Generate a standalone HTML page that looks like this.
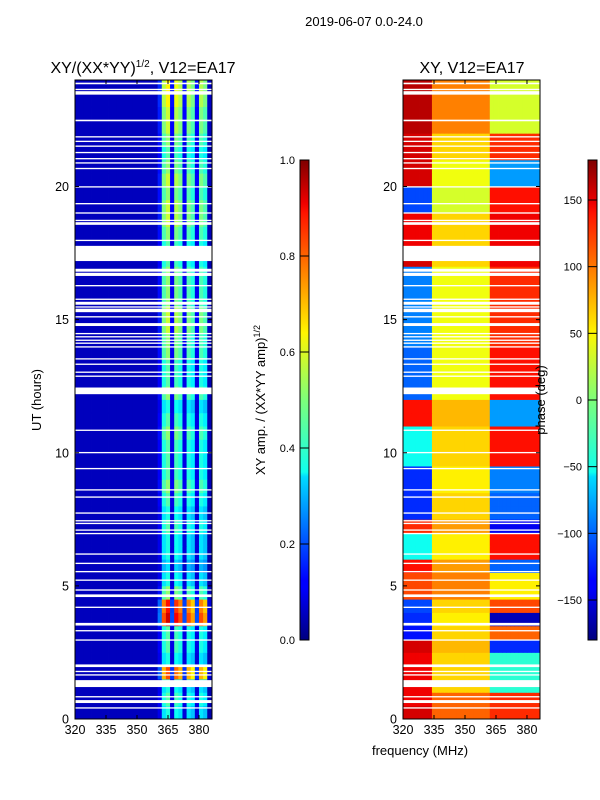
<!DOCTYPE html>
<html><head><meta charset="utf-8"><style>
body{margin:0;background:#fff;}
svg{display:block;font-family:"Liberation Sans","DejaVu Sans",sans-serif;}
</style></head><body>
<svg id="fig" width="600" height="800" viewBox="0 0 600 800">
<defs>
<linearGradient id="jetg" x1="0" y1="1" x2="0" y2="0">
<stop offset="0" stop-color="#00007f"/><stop offset="0.11" stop-color="#0000ff"/><stop offset="0.125" stop-color="#0000ff"/>
<stop offset="0.34" stop-color="#00dbff"/><stop offset="0.35" stop-color="#0fffee"/><stop offset="0.5" stop-color="#7dff7a"/>
<stop offset="0.64" stop-color="#fff600"/><stop offset="0.66" stop-color="#ffe200"/><stop offset="0.89" stop-color="#ff1300"/>
<stop offset="0.91" stop-color="#ef0000"/><stop offset="1" stop-color="#7f0000"/>
</linearGradient>
</defs>
<text x="364" y="26" font-size="13" text-anchor="middle">2019-06-07 0.0-24.0</text>
<text x="143" y="73" font-size="16" text-anchor="middle">XY/(XX*YY)<tspan font-size="10" dy="-6">1/2</tspan><tspan dy="6">, V12=EA17</tspan></text>
<text x="472" y="73" font-size="16" text-anchor="middle">XY, V12=EA17</text>
<g id="left"></g>
<g id="right"></g>
<g id="axes"></g>
<rect x="300" y="160" width="9" height="480" fill="url(#jetg)" stroke="#000" stroke-width="1"/>
<rect x="588" y="160" width="9" height="480" fill="url(#jetg)" stroke="#000" stroke-width="1"/>
<g id="cbticks"></g>
<text transform="translate(41,400) rotate(-90)" font-size="13" text-anchor="middle">UT (hours)</text>
<text x="420" y="755" font-size="13" text-anchor="middle">frequency (MHz)</text>
<text transform="translate(265,400) rotate(-90)" font-size="13" text-anchor="middle">XY amp. / (XX*YY amp)<tspan font-size="9" dy="-5">1/2</tspan></text>
<text transform="translate(545,400) rotate(-90)" font-size="13" text-anchor="middle">phase (deg)</text>
</svg>
<script>
// time rows: 0.5 h bins, index 0 = 0-0.5h
const rowHours = 0.5;
const ampHigh = [0.35,0.4,0.35,0.7,0.35,0.4,0.4,0.8,0.75,0.45,
0.35,0.3,0.35,0.35,0.4,0.35,0.4,0.45,0.4,0.4,0.4,0.45,0.4,0.35,
0.45,0.4,0.4,0.45,0.45,0.5,0.5,0.45,0.45,0.45,0.4,0.4,
0.45,0.5,0.5,0.45,0.5,0.45,0.4,0.45,0.5,0.5,0.55,0.55];
const ampLow = 0.06;
const ampShape = [0.3,1.0,1.15,0.25,1.1,1.0,0.25,1.0,0.9,0.25,1.0,0.9,0.12];
const freqStart = 320, freqStep = 2, nFreq = 33, highStart = 360;
const phaseA = [150,140,140,140,140,150,-130,-120,-110,110,110,130,-40,-40,120,-120,-120,-120,-120,-40,-40,-40,130,130,
-100,-100,-100,-100,-90,-90,-90,-90,-90,-90,150,140,140,140,-110,-110,150,150,150,150,160,160,160,160];
const phaseB = [100,100,60,60,60,70,60,50,60,90,90,80,50,50,80,60,60,50,50,60,60,60,70,70,
40,40,40,40,40,40,40,40,40,40,60,60,60,60,30,30,40,40,60,60,90,90,90,90];
const phaseC = [120,120,-30,-30,-30,-120,100,-160,110,50,50,-100,130,130,-140,-100,-100,-90,-90,130,130,130,-80,-80,
130,130,130,130,120,120,120,120,120,120,140,140,140,140,130,130,-80,-80,120,120,30,30,30,30];
const flags = [[23.84,23.9],[23.62,23.67],[23.45,23.58],[22.45,22.51],[21.84,21.89],[21.67,21.72],[21.49,21.54],[21.25,21.3],
[21.02,21.07],[20.86,20.91],[20.65,20.7],[19.96,20.01],[19.33,19.38],[18.98,19.03],[18.7,18.75],[18.56,18.66],[17.95,18.0],
[17.2,17.77],[16.8,16.91],[16.64,16.76],[16.25,16.3],[15.74,15.79],[15.56,15.67],[15.45,15.5],[15.28,15.41],[15.08,15.13],
[14.76,14.87],[14.45,14.5],[14.33,14.38],[14.2,14.25],[14.09,14.14],[13.95,14.0],[13.5,13.55],[13.3,13.35],[13.0,13.05],
[12.85,12.9],[12.2,12.45],[10.82,10.87],[9.98,10.03],[9.38,9.43],[8.58,8.63],[8.31,8.36],[7.71,7.76],[7.42,7.47],
[7.32,7.37],[7.07,7.12],[6.94,6.99],[6.17,6.22],[5.82,5.87],[5.51,5.56],[5.19,5.24],[4.82,4.87],[4.58,4.68],[4.17,4.22],
[3.51,3.61],[3.29,3.34],[2.94,2.99],[1.95,2.05],[1.76,1.81],[1.63,1.68],[1.2,1.46],[0.81,0.86],[0.6,0.71],[0.39,0.44]];
const yTicks = [0,5,10,15,20];
const xTicks = [320,335,350,365,380];
const ampCbTicks = [0.0,0.2,0.4,0.6,0.8,1.0];
const phCbTicks = [-150,-100,-50,0,50,100,150];

const NS = "http://www.w3.org/2000/svg";
const yTop=80, yBot=719, fmin=320, fmax=386.3, hmax=24;
function yScale(h){return yBot-(h/hmax)*(yBot-yTop);}
function xScale(f,x0,x1){return x0+(f-fmin)/(fmax-fmin)*(x1-x0);}
function jet(v){
  v=Math.max(0,Math.min(1,v));
  const r=Math.max(0,Math.min(1,1.5-Math.abs(4*v-3)));
  const g=Math.max(0,Math.min(1,1.5-Math.abs(4*v-2)));
  const b=Math.max(0,Math.min(1,1.5-Math.abs(4*v-1)));
  return `rgb(${Math.round(r*255)},${Math.round(g*255)},${Math.round(b*255)})`;
}
function mk(tag,attrs,parent){const e=document.createElementNS(NS,tag);for(const k in attrs)e.setAttribute(k,attrs[k]);parent.appendChild(e);return e;}

function drawPanel(gid,x0,x1,valueFn,vmin,vmax,name){
  const g=document.getElementById(gid);
  for(let r=0;r<ampHigh.length;r++){
    const ya=yScale((r+1)*rowHours), yb=yScale(r*rowHours);
    for(let c=0;c<nFreq;c++){
      const f=freqStart+c*freqStep;
      const xa=xScale(f,x0,x1), xb=xScale(Math.min(f+freqStep,fmax),x0,x1);
      const v=valueFn(r,c,f);
      const e=mk('rect',{x:xa.toFixed(2),y:ya.toFixed(2),width:(xb-xa+0.4).toFixed(2),height:(yb-ya+0.4).toFixed(2),fill:jet((v-vmin)/(vmax-vmin))},g);
      
      
    }
  }
  flags.forEach(fl=>{
    const e=mk('rect',{x:x0,y:yScale(fl[1]).toFixed(2),width:x1-x0,height:Math.max(1.2,yScale(fl[0])-yScale(fl[1])).toFixed(2),fill:'#fff'},g);
    
    
  });
}
drawPanel('left',75,212,(r,c,f)=>f<highStart?ampLow:ampHigh[r]*ampShape[c-(highStart-freqStart)/freqStep],0,1,'amplitude');
drawPanel('right',403,540,(r,c,f)=>f<333?phaseA[r]:(f<362?phaseB[r]:phaseC[r]),-180,180,'phase');

const ax=document.getElementById('axes');
[[75,212,'left'],[403,540,'right']].forEach(([x0,x1,nm])=>{
  const fr=mk('rect',{x:x0,y:yTop,width:x1-x0,height:yBot-yTop,fill:'none',stroke:'#000','stroke-width':1},ax);
  
  
  yTicks.forEach(t=>{
    const y=yScale(t);
    mk('line',{x1:x0,x2:x0+4,y1:y,y2:y,stroke:'#000'},ax);
    mk('line',{x1:x1,x2:x1-4,y1:y,y2:y,stroke:'#000'},ax);
    const tx=mk('text',{x:x0-6,y:y+4.5,'font-size':12.5,'text-anchor':'end'},ax);
    tx.textContent=t;
    
    
  });
  xTicks.forEach(t=>{
    const x=xScale(t,x0,x1);
    mk('line',{x1:x,x2:x,y1:yBot,y2:yBot-4,stroke:'#000'},ax);
    mk('line',{x1:x,x2:x,y1:yTop,y2:yTop+4,stroke:'#000'},ax);
    const tx=mk('text',{x:x,y:yBot+15,'font-size':12.5,'text-anchor':'middle'},ax);
    tx.textContent=t;
    
    
  });
});
const cb=document.getElementById('cbticks');
ampCbTicks.forEach(t=>{
  const y=640-t*480;
  mk('line',{x1:300,x2:309,y1:y,y2:y,stroke:'#000'},cb);
  const tx=mk('text',{x:295,y:y+4,'font-size':11,'text-anchor':'end'},cb);
  tx.textContent=t.toFixed(1);
  
  
});
phCbTicks.forEach(t=>{
  const y=400-t*(480/360);
  mk('line',{x1:588,x2:597,y1:y,y2:y,stroke:'#000'},cb);
  const tx=mk('text',{x:582,y:y+4,'font-size':11,'text-anchor':'end'},cb);
  tx.textContent=t<0?'\u2212'+(-t):t;
  
  
});
</script>
</body></html>
